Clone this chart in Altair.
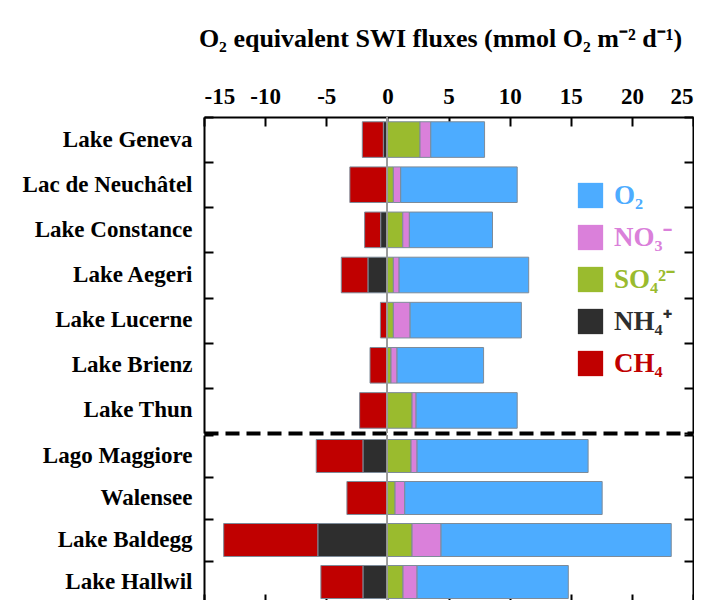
import altair as alt
import pandas as pd

# ---------------- data ----------------
top_lakes = ["Lake Geneva", "Lac de Neuchâtel", "Lake Constance", "Lake Aegeri",
             "Lake Lucerne", "Lake Brienz", "Lake Thun"]
bot_lakes = ["Lago Maggiore", "Walensee", "Lake Baldegg", "Lake Hallwil"]

# magnitudes (mmol O2 m-2 d-1); NH4 and CH4 are drawn to the negative side
so4_top = [2.67, 0.49, 1.26, 0.49, 0.49, 0.30, 2.02]
no3_top = [0.88, 0.60, 0.54, 0.47, 1.37, 0.49, 0.33]
o2_top  = [4.40, 9.53, 6.80, 10.60, 9.10, 7.08, 8.27]
nh4_top = [0.33, 0.00, 0.55, 1.59, 0.00, 0.00, 0.00]
ch4_top = [1.72, 3.07, 1.31, 2.18, 0.57, 1.42, 2.27]

so4_bot = [1.94, 0.63, 2.02, 1.28]
no3_bot = [0.49, 0.79, 2.37, 1.15]
o2_bot  = [13.99, 16.15, 18.83, 12.37]
nh4_bot = [2.00, 0.00, 5.69, 2.00]
ch4_bot = [3.82, 3.31, 7.70, 3.44]

species = ["O₂", "NO₃⁻", "SO₄²⁻", "NH₄⁺", "CH₄"]
colors = ["#4dacff", "#da80da", "#9abb2e", "#2e2e2e", "#c00000"]
x_ticks = [-15, -10, -5, 0, 5, 10, 15, 20, 25]
title_text = "O₂ equivalent SWI fluxes  (mmol O₂ m⁻² d⁻¹)"


def build(lakes, so4, no3, o2, nh4, ch4):
    rows = []
    for i, lake in enumerate(lakes):
        pos = 0.0
        for sp, v in (("SO₄²⁻", so4[i]), ("NO₃⁻", no3[i]), ("O₂", o2[i])):
            if v > 0:
                rows.append(dict(lake=lake, species=sp, start=pos, end=pos + v))
            pos += v
        neg = 0.0
        for sp, v in (("NH₄⁺", nh4[i]), ("CH₄", ch4[i])):
            if v > 0:
                rows.append(dict(lake=lake, species=sp, start=neg, end=neg - v))
            neg -= v
    return pd.DataFrame(rows)


df_top = build(top_lakes, so4_top, no3_top, o2_top, nh4_top, ch4_top)
df_bot = build(bot_lakes, so4_bot, no3_bot, o2_bot, nh4_bot, ch4_bot)

# ---------------- styling ----------------
SERIF = "Liberation Serif"
W = 489
H_TOP = 316
H_BOT = 168
BAR_TOP = 35.6
BAR_BOT = 33


def xscale():
    return alt.Scale(domain=[-15, 25], nice=False, zero=False)


def yscale(lakes):
    return alt.Scale(domain=lakes, paddingInner=0, paddingOuter=0)


label_color_expr = (
    "datum.label == 'O₂' ? '#4dacff' : datum.label == 'NO₃⁻' ? '#da80da' : "
    "datum.label == 'SO₄²⁻' ? '#9abb2e' : datum.label == 'NH₄⁺' ? '#2e2e2e' : '#c00000'"
)

color_scale = alt.Scale(domain=species, range=colors)


def frame_y(orient):
    return alt.Axis(orient=orient, offset=-W, labels=False, ticks=True, tickBand="extent",
                    tickSize=9, tickWidth=2, tickColor="black", domain=True, domainWidth=2,
                    domainColor="black", grid=False, title=None)


y_label_axis = alt.Axis(orient="left", ticks=False, tickSize=0, domain=False, grid=False,
                        labelFont=SERIF, labelFontWeight="bold", labelFontSize=23,
                        labelColor="black", labelPadding=12, title=None)


def panel(df, lakes, height, bar, top):
    if top:
        x_axis = alt.Axis(orient="top", values=x_ticks, ticks=False, tickSize=0, domain=False,
                          grid=False, labelFont=SERIF, labelFontWeight="bold", labelFontSize=23,
                          labelColor="black", labelPadding=9,
                          labelExpr="(datum.value < 0 ? '-' : '') + abs(datum.value)",
                          title=title_text, titleX=236, titleAlign="center",
                          titleFont=SERIF, titleFontWeight="bold", titleFontSize=26,
                          titleColor="black", titlePadding=34)
        legend = alt.Legend(orient="none", legendX=373, legendY=65, title=None,
                            symbolType="square", symbolSize=640, symbolStrokeWidth=0,
                            symbolOpacity=1, labelFont=SERIF, labelFontWeight="bold",
                            labelFontSize=27, labelColor=alt.ExprRef(label_color_expr),
                            labelOffset=10, rowPadding=14, labelLimit=200)
        frame_x = alt.Axis(orient="bottom", offset=-height, values=x_ticks, labels=False,
                           ticks=True, tickSize=9, tickWidth=2, tickColor="black", domain=True,
                           domainWidth=2, domainColor="black", grid=False, title=None)
        extra_x = alt.Axis(orient="bottom", labels=False, ticks=False, domain=True,
                           domainDash=[14, 7], domainWidth=4, domainColor="black",
                           grid=False, title=None)
    else:
        x_axis = None
        legend = None
        frame_x = alt.Axis(orient="top", offset=-height, values=x_ticks, labels=False,
                           ticks=True, tickSize=9, tickWidth=2, tickColor="black", domain=True,
                           domainWidth=2, domainColor="black", grid=False, title=None)
        extra_x = None

    base = alt.Chart(df)

    bars = base.mark_bar(size=bar, stroke="#7d8b99", strokeWidth=1).encode(
        x=alt.X("start:Q", scale=xscale(), axis=x_axis),
        x2="end:Q",
        y=alt.Y("lake:N", scale=yscale(lakes), axis=y_label_axis, sort=lakes),
        color=alt.Color("species:N", scale=color_scale, legend=legend),
    )
    left_frame = base.mark_bar(opacity=0).encode(
        x=alt.X("start:Q", scale=xscale(), axis=frame_x),
        x2="end:Q",
        y=alt.Y("lake:N", scale=yscale(lakes), axis=frame_y("right"), sort=lakes),
    )
    right_frame = base.mark_bar(opacity=0).encode(
        x=alt.X("start:Q", scale=xscale(), axis=extra_x),
        x2="end:Q",
        y=alt.Y("lake:N", scale=yscale(lakes), axis=frame_y("left"), sort=lakes),
    )
    zero = base.mark_rule(color="#9a9a9a", strokeWidth=1).encode(
        x=alt.XDatum(0, axis=None, scale=xscale()),
    )
    return alt.layer(bars, left_frame, right_frame, zero).resolve_axis(
        x="independent", y="independent"
    ).properties(width=W, height=height)


top = panel(df_top, top_lakes, H_TOP, BAR_TOP, True)
bottom = panel(df_bot, bot_lakes, H_BOT, BAR_BOT, False)

chart = alt.vconcat(top, bottom, spacing=0).configure_view(stroke=None).properties(
    padding={"left": 14, "top": 17, "right": 0, "bottom": 0}
)

chart.save("out.html", embed_options={"renderer": "svg", "actions": False})
